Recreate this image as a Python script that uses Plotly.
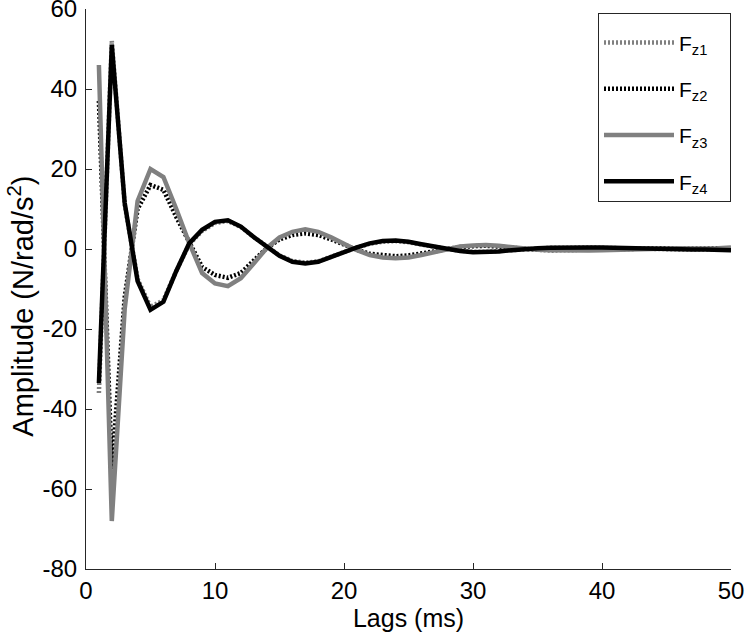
import plotly.graph_objects as go

# lags (ms) and the four force responses
lags = list(range(1, 51))

fz1 = [-36, 52, 11, -7.5, -14.5, -12.8, -5.5, 1.2, 4.5, 6.5,
       7, 5.5, 3, 0.6, -1.6, -3, -3.4, -3.1, -1.9, -0.7,
       0.4, 1.3, 1.8, 2, 1.7, 1.1, 0.5, 0, -0.4, -0.7,
       -0.7, -0.5, -0.3, 0, 0.2, 0.3, 0.3, 0.4, 0.4, 0.3,
       0.2, 0.2, 0.1, 0, 0, -0.1, -0.1, -0.1, -0.1, -0.2]

fz2 = [37, -55, -12, 10, 16, 14.8, 8, 1.5, -4.5, -6.5,
       -7.2, -6, -3, 0.2, 2.4, 3.5, 3.9, 3.5, 2.4, 1,
       -0.2, -1.2, -1.6, -1.8, -1.6, -1.2, -0.6, 0, 0.5, 0.7,
       0.8, 0.6, 0.3, 0, -0.2, -0.3, -0.3, -0.3, -0.3, -0.2,
       -0.1, 0, 0.1, 0.1, 0.2, 0.1, 0.1, 0.1, 0.1, 0.2]

fz3 = [46, -68, -15, 12, 20, 18, 10, 1.5, -6, -8.6,
       -9.3, -7.3, -3.6, 0.2, 2.9, 4.3, 4.9, 4.3, 2.9, 1.2,
       -0.3, -1.5, -2.1, -2.3, -2.1, -1.5, -0.8, 0, 0.6, 0.9,
       1.0, 0.8, 0.4, 0, -0.2, -0.3, -0.4, -0.4, -0.4, -0.3,
       -0.2, 0, 0.1, 0.2, 0.2, 0.2, 0.1, 0.1, 0.2, 0.4]

fz4 = [-33.5, 51, 11.5, -8, -15.2, -13.2, -5.5, 1.4, 4.8, 6.8,
       7.2, 5.6, 3, 0.6, -1.7, -3.2, -3.6, -3.2, -1.9, -0.7,
       0.4, 1.4, 2, 2.1, 1.8, 1.2, 0.6, 0, -0.5, -0.8,
       -0.8, -0.6, -0.3, 0, 0.2, 0.3, 0.4, 0.4, 0.4, 0.4,
       0.3, 0.2, 0.1, 0, 0, -0.1, -0.1, -0.1, -0.2, -0.3]

x_ticks = [0, 10, 20, 30, 40, 50]
y_ticks = [-80, -60, -40, -20, 0, 20, 40, 60]
y_tick_text = ["-80", "-60", "-40", "-20", "0", "20", "40", "60"]

GRAY = '#808080'
BLACK = '#000000'
AXIS = '#262626'
FONT = "Liberation Sans, Arial, sans-serif"
PAD = "\u00a0\u00a0\u00a0"  # a little room right of the legend labels

series = [
    ("F<sub>z1</sub>" + PAD, fz1, GRAY, "2px,2px"),
    ("F<sub>z2</sub>" + PAD, fz2, BLACK, "2px,2px"),
    ("F<sub>z3</sub>" + PAD, fz3, GRAY, "solid"),
    ("F<sub>z4</sub>" + PAD, fz4, BLACK, "solid"),
]

fig = go.Figure()
for i, (name, vals, color, dash) in enumerate(series):
    fig.add_trace(go.Scatter(
        x=lags, y=vals, mode='lines', name=name,
        legendgroup=f"g{i}",
        line=dict(color=color, width=4.5, dash=dash),
    ))

fig.update_layout(
    width=746, height=635,
    font=dict(family=FONT, size=24, color='#000000'),
    paper_bgcolor='white',
    plot_bgcolor='white',
    margin=dict(l=86, r=15, t=9, b=66, autoexpand=False),
    showlegend=True,
    legend=dict(
        x=1, xanchor='right', y=0.992, yanchor='top',
        bgcolor='white', bordercolor=AXIS, borderwidth=1,
        font=dict(family=FONT, size=21),
        title=dict(text=" ", font=dict(size=6)),
        tracegroupgap=16,
        itemwidth=70,
    ),
    xaxis=dict(
        range=[0, 50], tickvals=x_ticks,
        showgrid=False, zeroline=False,
        showline=True, linecolor=AXIS, linewidth=1,
        ticks='inside', ticklen=6, tickcolor=AXIS,
        tickfont=dict(size=24), ticklabeloverflow='allow',
        title=dict(text="Lags (ms)", font=dict(size=25), standoff=6),
    ),
    yaxis=dict(
        range=[-80, 60], tickvals=y_ticks, ticktext=y_tick_text,
        showgrid=False, zeroline=False,
        showline=True, linecolor=AXIS, linewidth=1,
        ticks='inside', ticklen=6, tickcolor=AXIS,
        tickfont=dict(size=24), ticklabeloverflow='allow',
        ticklabelstandoff=3,
    ),
    # y title as a rotated note: in the source it sits a bit below the axis middle
    annotations=[dict(
        text="Amplitude (N/rad/s<sup>2</sup>)",
        xref='paper', yref='paper', x=-0.101, y=0.47,
        xanchor='center', yanchor='middle', textangle=-90,
        showarrow=False, font=dict(family=FONT, size=29),
    )],
)

# drop the default page margin so the figure sits at the window's corner
fig.write_html("out.html", config={'displayModeBar': False},
               post_script="document.body.style.margin='0';")
